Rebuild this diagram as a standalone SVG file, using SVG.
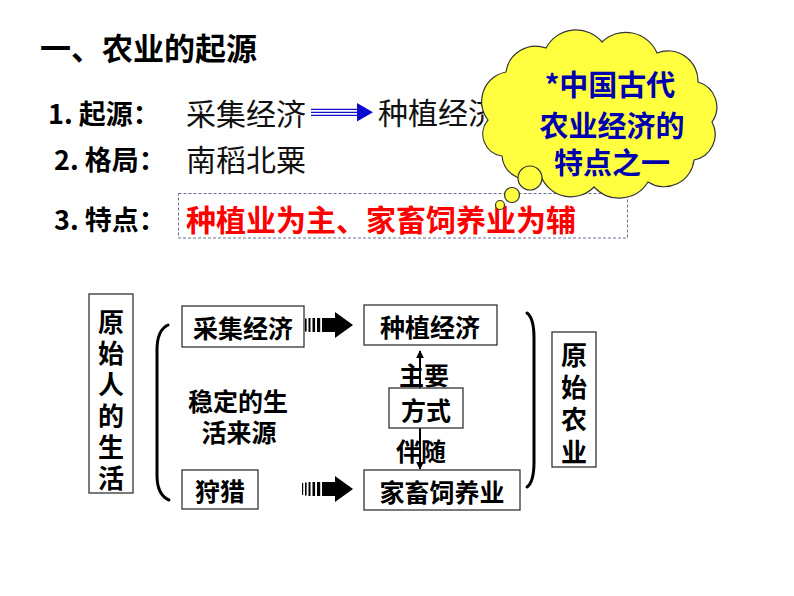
<svg xmlns="http://www.w3.org/2000/svg" width="794" height="596" viewBox="0 0 794 596">
<defs>
<style>
.h{font-family:"Noto Sans CJK SC","Liberation Sans",sans-serif;font-weight:bold;fill:#000;dominant-baseline:central}
.s{font-family:"Noto Sans CJK SC","Liberation Sans",sans-serif;font-weight:normal;fill:#111;dominant-baseline:central}
.v{font-family:"Noto Sans CJK SC","Liberation Sans",sans-serif;font-weight:bold;fill:#000;writing-mode:vertical-rl;font-size:26px;letter-spacing:5.3px}
.c{text-anchor:middle}
.box{fill:#fff;stroke:#333;stroke-width:1.3}
.brace{fill:none;stroke:#000;stroke-width:3;stroke-linecap:round}
.cl{fill:#ffff40;stroke:#333;stroke-width:1.2}
</style>
<marker id="ah" viewBox="0 0 10 10" refX="9" refY="5" markerWidth="8" markerHeight="8" markerUnits="userSpaceOnUse" orient="auto">
<path d="M0,0 L10,5 L0,10 Z" fill="#000"/>
</marker>
<g id="stripeArrow">
<rect x="0" y="-6" width="1.2" height="12" fill="#000"/>
<rect x="3" y="-6.5" width="1.6" height="13" fill="#000"/>
<rect x="6.5" y="-7" width="2" height="14" fill="#000"/>
<rect x="10.5" y="-7" width="2.6" height="14" fill="#000"/>
<rect x="15" y="-7" width="3.2" height="14" fill="#000"/>
<rect x="20" y="-7" width="14" height="14" fill="#000"/>
<path d="M33,-13 L51,0 L33,13 Z" fill="#000"/>
</g>
</defs>
<rect width="794" height="596" fill="#fff"/>

<g id="title"><text class="h" x="40" y="46" font-size="31">一、农业的起源</text></g>

<g id="row1">
<text class="h" x="48" y="112" font-size="27">1. 起源：</text>
<text class="s" x="186" y="112" font-size="30">采集经济</text>
<text class="s" x="378" y="111" font-size="30">种植经济</text>
</g>
<g id="row2">
<text class="h" x="54" y="158" font-size="27">2. 格局：</text>
<text class="s" x="186" y="158" font-size="30">南稻北粟</text>
</g>
<g id="row3">
<rect x="178.5" y="193.5" width="449" height="44.5" fill="none" stroke="#6a6f9a" stroke-width="1" stroke-dasharray="3,2"/>
<text class="h" x="54" y="218" font-size="27">3. 特点：</text>
<text class="h" x="186" y="218" font-size="30" style="fill:#ff0000">种植业为主、家畜饲养业为辅</text>
</g>

<g id="connectors">
<g id="blueArrow" stroke="#1010cc" stroke-width="1.3">
<line x1="311" y1="109.3" x2="359" y2="109.3"/>
<line x1="311" y1="112.3" x2="359" y2="112.3"/>
<line x1="311" y1="115.3" x2="359" y2="115.3"/>
<path d="M357,103 L373,112.3 L357,121.5 Z" fill="#0a0ad0" stroke="none"/>
</g>
<use href="#stripeArrow" x="302" y="325"/>
<use href="#stripeArrow" x="302" y="489"/>
<line x1="420" y1="388" x2="420" y2="351" stroke="#000" stroke-width="2" marker-end="url(#ah)"/>
<line x1="420" y1="428" x2="420" y2="469" stroke="#000" stroke-width="2" marker-end="url(#ah)"/>
<path class="brace" d="M168,325 Q157,330 157,350 L157,475 Q157,495 169,500"/>
<path class="brace" d="M527,313 Q534,318 534,338 L534,462 Q534,482 527,487"/>
</g>

<g id="cloud">
<path class="cl" d="M488,120 A30,30 0 0 1 506,72 A30,30 0 0 1 546,48 A34,34 0 0 1 602,42 A34,34 0 0 1 657,53 A30,30 0 0 1 698,82 A26,26 0 0 1 712,122 A26,26 0 0 1 694,160 A30,30 0 0 1 648,182 A34,34 0 0 1 594,187 A32,32 0 0 1 541,176 A26,26 0 0 1 502,156 A22,22 0 0 1 488,120 Z"/>
<circle class="cl" cx="530" cy="178" r="12"/>
<circle class="cl" cx="512" cy="195" r="7.5"/>
<circle class="cl" cx="500" cy="205" r="4.5"/>
<text class="h c" font-size="29" style="fill:#0000b0"><tspan x="610" y="83">*中国古代</tspan><tspan x="612" y="124">农业经济的</tspan><tspan x="612" y="161">特点之一</tspan></text>
</g>

<g id="n-yuanshiren">
<rect class="box" x="89" y="294" width="44" height="199"/>
<text class="v" x="111" y="309">原始人的生活</text>
</g>

<g id="n-caiji">
<rect class="box" x="182" y="306" width="122" height="41"/>
<text class="h c" x="243" y="327" font-size="25">采集经济</text>
</g>
<g id="n-wending">
<text class="h c" font-size="25"><tspan x="238" y="400">稳定的生</tspan><tspan x="239" y="431">活来源</tspan></text>
</g>
<g id="n-shoulie">
<rect class="box" x="182" y="470" width="76" height="39"/>
<text class="h c" x="220" y="490" font-size="25">狩猎</text>
</g>
<g id="n-zhongzhi">
<rect class="box" x="364" y="305" width="133" height="40"/>
<text class="h c" x="430" y="326" font-size="25">种植经济</text>
</g>
<g id="n-zhuyao"><text class="h c" x="424" y="374" font-size="25">主要</text></g>
<g id="n-fangshi">
<rect class="box" x="389" y="388" width="74" height="40"/>
<text class="h c" x="426" y="409" font-size="25">方式</text>
</g>
<g id="n-banshui"><text class="h c" x="421" y="450" font-size="25">伴随</text></g>
<g id="n-jiachu">
<rect class="box" x="364" y="470" width="156" height="40"/>
<text class="h c" x="442" y="491" font-size="25">家畜饲养业</text>
</g>
<g id="n-yuanshinongye">
<rect class="box" x="552" y="332" width="44" height="135"/>
<text class="v" x="574" y="342" style="letter-spacing:6.3px">原始农业</text>
</g>
</svg>
